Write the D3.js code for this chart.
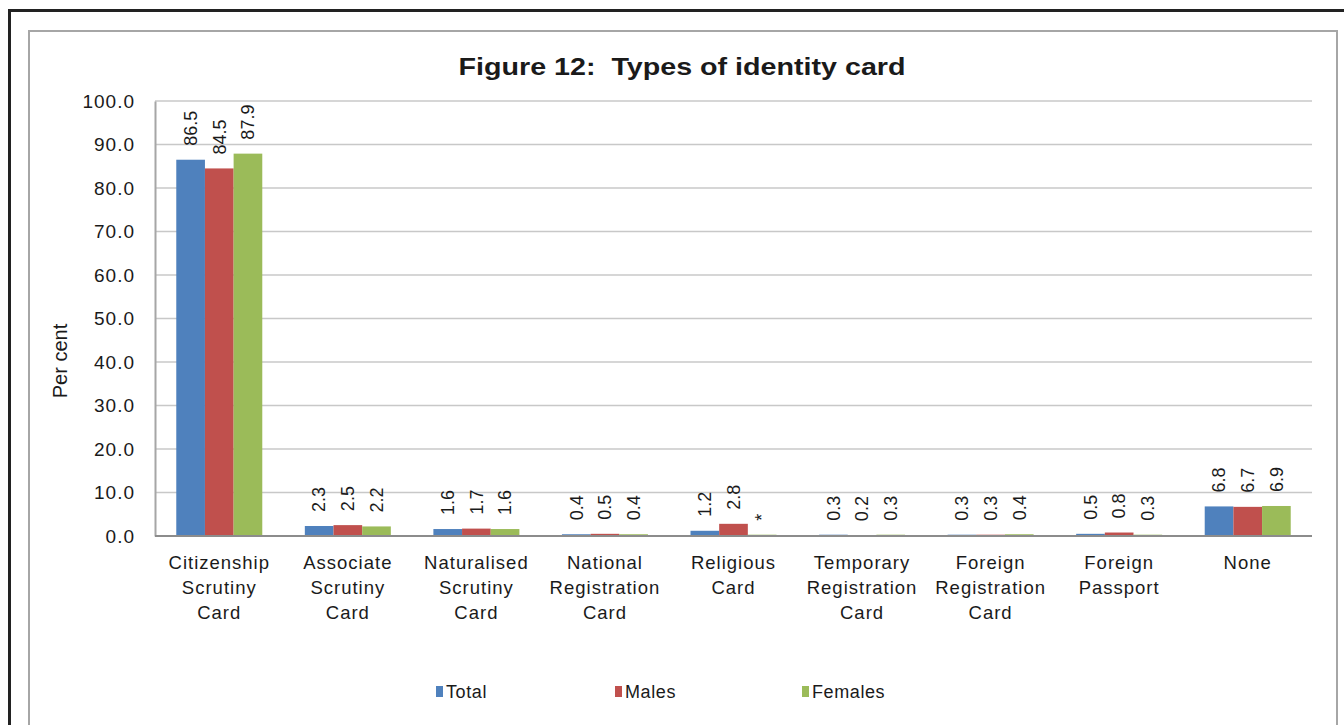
<!DOCTYPE html>
<html>
<head>
<meta charset="utf-8">
<script src="https://cdn.jsdelivr.net/npm/d3@7"></script>
<style>
  html, body { margin: 0; padding: 0; background: #fff; }
  svg { display: block; }
  text { font-family: "Liberation Sans", Arial, sans-serif; fill: #1a1a1a; }
</style>
</head>
<body>
<svg id="chart" width="1344" height="725"></svg>
<script>
const title = "Figure 12:  Types of identity card";
const yAxisTitle = "Per cent";
const categories = [
  ["Citizenship", "Scrutiny", "Card"],
  ["Associate", "Scrutiny", "Card"],
  ["Naturalised", "Scrutiny", "Card"],
  ["National", "Registration", "Card"],
  ["Religious", "Card"],
  ["Temporary", "Registration", "Card"],
  ["Foreign", "Registration", "Card"],
  ["Foreign", "Passport"],
  ["None"]
];
const seriesNames = ["Total", "Males", "Females"];
const seriesColors = ["#4F81BD", "#C0504D", "#9BBB59"];
const total   = [86.5, 2.3, 1.6, 0.4, 1.2, 0.3, 0.3, 0.5, 6.8];
const males   = [84.5, 2.5, 1.7, 0.5, 2.8, 0.2, 0.3, 0.8, 6.7];
const females = [87.9, 2.2, 1.6, 0.4, 0.3, 0.3, 0.4, 0.3, 6.9];
const totalLabels   = ["86.5", "2.3", "1.6", "0.4", "1.2", "0.3", "0.3", "0.5", "6.8"];
const malesLabels   = ["84.5", "2.5", "1.7", "0.5", "2.8", "0.2", "0.3", "0.8", "6.7"];
const femalesLabels = ["87.9", "2.2", "1.6", "0.4", "*", "0.3", "0.4", "0.3", "6.9"];
const yTicks = [0, 10, 20, 30, 40, 50, 60, 70, 80, 90, 100];

const seriesValues = [total, males, females];
const seriesLabels = [totalLabels, malesLabels, femalesLabels];

const svg = d3.select("#chart");

// outer frame and chart-area frame
svg.append("path").attr("d", "M9.5,730 V10.5 H1350")
  .attr("fill", "none").attr("stroke", "#222").attr("stroke-width", 3);
svg.append("path").attr("d", "M29,730 V31 H1337 V730")
  .attr("fill", "none").attr("stroke", "#a6a6a6").attr("stroke-width", 2);

const plot = { left: 155, right: 1312, top: 101, bottom: 536 };

const catIdx = categories.map((d, i) => i);
const x = d3.scaleBand().domain(catIdx).range([plot.left, plot.right])
  .paddingInner(0.331).paddingOuter(0.1655);
const xs = d3.scaleBand().domain(d3.range(seriesNames.length)).range([0, x.bandwidth()]);
const y = d3.scaleLinear().domain([0, 100]).range([plot.bottom, plot.top]);

// gridlines
svg.append("g").selectAll("line").data(yTicks.filter(t => t > 0)).join("line")
  .attr("x1", plot.left).attr("x2", plot.right)
  .attr("y1", d => y(d)).attr("y2", d => y(d))
  .attr("stroke", "#c8c8c8").attr("stroke-width", 1.6);

// y axis
const yAxis = d3.axisLeft(y).tickValues(yTicks).tickFormat(d3.format(".1f")).tickSize(0).tickPadding(20);
const yg = svg.append("g").attr("transform", `translate(${plot.left},0)`).call(yAxis);
yg.select(".domain").attr("stroke", "#a6a6a6").attr("stroke-width", 2);
yg.selectAll("text").style("font-size", "19px").attr("fill", "#1a1a1a")
  .style("letter-spacing", "1px")
  .style("font-family", "'Liberation Sans', Arial, sans-serif");

// bars
const groups = svg.append("g").selectAll("g").data(catIdx).join("g")
  .attr("transform", i => `translate(${x(i)},0)`);
seriesNames.forEach((name, s) => {
  groups.append("rect")
    .attr("x", xs(s)).attr("width", xs.bandwidth())
    .attr("y", i => y(seriesValues[s][i]))
    .attr("height", i => y(0) - y(seriesValues[s][i]))
    .attr("fill", seriesColors[s]);
  groups.append("text")
    .attr("transform", i => `translate(${xs(s) + xs.bandwidth() / 2},${y(seriesValues[s][i]) - 14}) rotate(-90)`)
    .attr("dy", "0.35em")
    .attr("text-anchor", "start")
    .style("font-size", "18px")
    .text(i => seriesLabels[s][i]);
});

// x axis line
svg.append("line").attr("x1", plot.left).attr("x2", plot.right)
  .attr("y1", plot.bottom).attr("y2", plot.bottom)
  .attr("stroke", "#8c8c8c").attr("stroke-width", 2);

// category labels
const xg = svg.append("g").selectAll("text").data(catIdx).join("text")
  .attr("x", i => x(i) + x.bandwidth() / 2)
  .attr("y", 569)
  .attr("text-anchor", "middle")
  .style("font-size", "18.5px")
  .style("letter-spacing", "1px");
xg.each(function(i) {
  const t = d3.select(this);
  categories[i].forEach((line, k) => {
    t.append("tspan").attr("x", x(i) + x.bandwidth() / 2).attr("y", 569 + k * 25).text(line);
  });
});

// y axis title
svg.append("text")
  .attr("transform", "translate(60,361) rotate(-90)")
  .attr("text-anchor", "middle").attr("dy", "0.35em")
  .style("font-size", "20px")
  .text(yAxisTitle);

// title
svg.append("text").attr("x", 682).attr("y", 75).attr("text-anchor", "middle")
  .style("font-size", "24px").style("font-weight", "bold").attr("fill", "#000")
  .style("white-space", "pre")
  .attr("textLength", 447).attr("lengthAdjust", "spacingAndGlyphs")
  .text(title);

// legend
const legendX = [436, 615, 802];
const lg = svg.append("g").selectAll("g").data(seriesNames).join("g")
  .attr("transform", (d, i) => `translate(${legendX[i]},686)`);
lg.append("rect").attr("width", 7).attr("height", 11).attr("fill", (d, i) => seriesColors[i]);
lg.append("text").attr("x", 10).attr("y", 5.5).attr("dy", "0.35em")
  .style("font-size", "18px").style("letter-spacing", "0.6px").text(d => d);
</script>
</body>
</html>
